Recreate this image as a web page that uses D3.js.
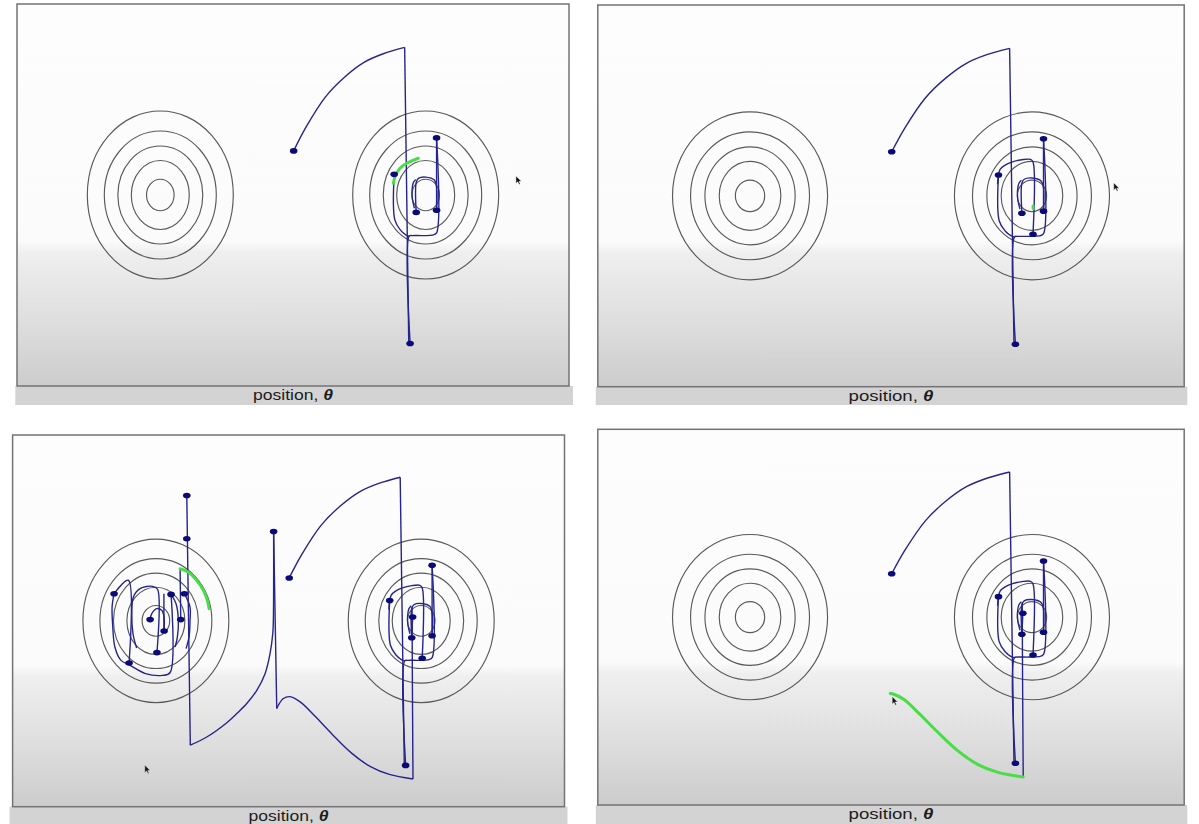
<!DOCTYPE html>
<html>
<head>
<meta charset="utf-8">
<script src="https://cdn.jsdelivr.net/npm/d3@7"></script>
<style>
  html, body { margin: 0; padding: 0; background: #ffffff; }
  svg { display: block; }
</style>
</head>
<body>
<svg id="chart" width="1199" height="824"></svg>
<script>
// Phase space of the sampler: position θ across, momentum p up
const thetaDomain = [-4.16, 4.16];
const momentumDomain = [-2.88, 2.88];

// Two modes of the target and the energy contours drawn round each (half-widths in θ and p)
const modeCenters = [-2, 2];
const contourRadiusTheta = [1.10, 0.844, 0.64, 0.437, 0.208];
const contourRadiusP = [1.267, 0.965, 0.739, 0.52, 0.238];

// Sampler path, leg by leg, as [θ, p] points
const legs = [
  [[0.01, 0.665], [0.2, 1.03], [0.49, 1.48], [0.78, 1.78], [1.07, 2.0], [1.36, 2.13], [1.683, 2.226]],
  [[1.683, 2.226], [1.745, -2.24]],
  [[1.765, -2.24], [1.752, -0.62], [1.80, -0.612], [1.95, -0.612], [2.10, -0.605], [2.164, -0.57], [2.164, 0.861]],
  [[2.164, 0.861], [2.164, -0.231]],
  [[2.164, -0.231], [2.164, 0.12], [2.13, 0.225], [2.0, 0.27], [1.89, 0.25], [1.857, 0.19], [1.857, -0.262]],
  [[1.83, -0.2], [1.80, -0.06], [1.795, 0.08], [1.815, 0.19], [1.85, 0.235]],
  [[1.525, 0.314], [1.535, -0.375], [1.62, -0.53], [1.70, -0.6], [1.752, -0.62]],
  [[1.512, 0.176], [1.525, 0.314], [1.548, 0.40], [1.613, 0.46], [1.714, 0.51], [1.857, 0.545], [1.98, 0.55], [2.015, 0.51], [2.015, -0.58]],
  [[1.871, 0.06], [1.857, -0.262]],
  [[1.862, 0.22], [1.866, -0.8], [1.876, -2.45]],
  [[1.876, -2.45], [1.518, -2.38], [1.235, -2.26], [0.95, -2.05], [0.66, -1.76], [0.40, -1.48], [0.18, -1.26], [0.02, -1.175], [-0.078, -1.204], [-0.154, -1.308], [-0.178, -1.359]],
  [[-0.178, -1.359], [-0.225, 1.385]],
  [[-0.225, 1.385], [-0.229, 0.008], [-0.238, -0.198], [-0.279, -0.508], [-0.354, -0.818], [-0.479, -1.076], [-0.63, -1.282], [-0.781, -1.437], [-0.945, -1.59], [-1.233, -1.8], [-1.481, -1.927]],
  [[-1.481, -1.927], [-1.534, 1.943]],
  [[-2.63, 0.421], [-2.416, 0.629], [-2.404, -0.653]],
  [[-2.63, 0.421], [-2.66, 0.216], [-2.65, -0.093], [-2.619, -0.402], [-2.53, -0.609], [-2.389, -0.689], [-2.157, -0.817], [-1.90, -0.845], [-1.785, -0.80], [-1.771, 0.41]],
  [[-2.29, -0.42], [-2.345, -0.2], [-2.363, 0.11], [-2.339, 0.369], [-2.239, 0.499], [-2.05, 0.535], [-1.975, 0.49], [-1.984, -0.492]],
  [[-2.087, 0.019], [-2.062, 0.111], [-1.987, 0.189], [-1.912, 0.163], [-1.877, 0.06], [-1.876, -0.158]],
  [[-1.879, 0.42], [-1.879, -0.158]],
  [[-1.57, 0.421], [-1.485, 0.214], [-1.485, 0.008], [-1.5, -0.251], [-1.545, -0.43]],
  [[-1.771, 0.41], [-1.696, 0.266], [-1.661, 0.008], [-1.676, -0.251], [-1.711, -0.406]],
  [[-1.625, 0.019], [-1.635, 0.808]]
];

// Kept samples: [θ, p, leg after which the sample is on screen]
const samples = [
  [0.01, 0.665, 0], [1.765, -2.24, 1], [2.164, 0.861, 2], [2.164, -0.231, 3],
  [1.857, -0.262, 4], [1.525, 0.314, 6], [2.015, -0.58, 7], [1.871, 0.06, 8],
  [-0.225, 1.385, 11], [-1.534, 1.943, 13], [-1.534, 1.272, 13],
  [-2.63, 0.421, 14], [-2.404, -0.653, 14], [-1.771, 0.41, 15], [-1.984, -0.492, 16],
  [-2.087, 0.019, 17], [-1.876, -0.158, 17], [-1.57, 0.421, 19], [-1.625, 0.019, 21]
];

// Four snapshots of the run: legs already drawn, and the leg being integrated now
const snapshotLegCount = [7, 8, 22, 10];
const currentLegs = [
  [[1.512, 0.176], [1.548, 0.302], [1.613, 0.403], [1.714, 0.478], [1.798, 0.517], [1.888, 0.554]],
  [[2.016, -0.19], [2.015, -0.155]],
  [[-1.635, 0.808], [-1.51, 0.755], [-1.384, 0.627], [-1.284, 0.472], [-1.224, 0.317], [-1.198, 0.189]],
  [[1.876, -2.45], [1.518, -2.38], [1.235, -2.26], [0.95, -2.05], [0.66, -1.76], [0.40, -1.48], [0.18, -1.26], [0.02, -1.175], [-0.01, -1.17]]
];
const pointerAt = [[3.36, 0.287], [3.16, 0.198], [-2.168, -2.235], [0.017, -1.218]];

const axisLabel = "position, ";
const axisSymbol = "θ";

// Layout of the four snapshot frames on the page
const panels = [
  { x0: 17,    x1: 569,    y0: 4,     y1: 386,   bandX0: 15.3,  bandX1: 573,    bandY1: 405 },
  { x0: 597.8, x1: 1184.2, y0: 5,     y1: 386.7, bandX0: 595.8, bandX1: 1187.3, bandY1: 405 },
  { x0: 12.6,  x1: 564.5,  y0: 435,   y1: 806.7, bandX0: 9.6,   bandX1: 567.5,  bandY1: 824 },
  { x0: 597.8, x1: 1184.2, y0: 429.3, y1: 805,   bandX0: 595.8, bandX1: 1187.3, bandY1: 824 }
];

const svg = d3.select("#chart");
const defs = svg.append("defs");

const grad = defs.append("linearGradient")
  .attr("id", "frameFill").attr("x1", 0).attr("y1", 0).attr("x2", 0).attr("y2", 1);
[[0, "#fdfdfd"], [0.62, "#fbfbfb"], [0.65, "#efefef"], [0.8, "#e1e1e1"], [1, "#cccccc"]]
  .forEach(([o, c]) => grad.append("stop").attr("offset", o).attr("stop-color", c));

const pathColor = "#25258c";
const dotColor = "#0b0b78";
const currentColor = "#47de47";
const contourColor = "#5a5a5a";

panels.forEach((pn, i) => {
  const x = d3.scaleLinear().domain(thetaDomain).range([pn.x0, pn.x1]);
  const y = d3.scaleLinear().domain(momentumDomain).range([pn.y1, pn.y0]);
  const g = svg.append("g").attr("class", "snapshot");

  defs.append("clipPath").attr("id", "clip" + i)
    .append("rect").attr("x", pn.x0).attr("y", pn.y0)
    .attr("width", pn.x1 - pn.x0).attr("height", pn.y1 - pn.y0);

  // caption strip under the frame
  g.append("rect")
    .attr("x", pn.bandX0).attr("y", pn.y1)
    .attr("width", pn.bandX1 - pn.bandX0).attr("height", pn.bandY1 - pn.y1)
    .attr("fill", "#d3d3d3");

  g.append("rect")
    .attr("x", pn.x0).attr("y", pn.y0)
    .attr("width", pn.x1 - pn.x0).attr("height", pn.y1 - pn.y0)
    .attr("fill", "url(#frameFill)");

  const plot = g.append("g").attr("clip-path", `url(#clip${i})`);

  // energy contours round both modes
  modeCenters.forEach(m => {
    contourRadiusTheta.forEach((r, k) => {
      plot.append("ellipse")
        .attr("cx", x(m)).attr("cy", y(0))
        .attr("rx", x(m + r) - x(m)).attr("ry", y(0) - y(contourRadiusP[k]))
        .attr("fill", "none").attr("stroke", contourColor).attr("stroke-width", 1.15);
    });
  });

  const line = d3.line()
    .x(d => x(d[0])).y(d => y(d[1]))
    .curve(d3.curveCatmullRom.alpha(0.5));

  plot.selectAll("path.leg")
    .data(legs.slice(0, snapshotLegCount[i]))
    .join("path").attr("class", "leg")
    .attr("d", line)
    .attr("fill", "none").attr("stroke", pathColor)
    .attr("stroke-width", 1.4).attr("stroke-linejoin", "round");

  plot.append("path")
    .attr("d", line(currentLegs[i]))
    .attr("fill", "none").attr("stroke", currentColor)
    .attr("stroke-width", 3).attr("stroke-linecap", "round");

  plot.selectAll("ellipse.sample")
    .data(samples.filter(s => s[2] < snapshotLegCount[i]))
    .join("ellipse").attr("class", "sample")
    .attr("cx", d => x(d[0])).attr("cy", d => y(d[1]))
    .attr("rx", 3.8).attr("ry", 2.8)
    .attr("fill", dotColor);

  // mouse pointer left on screen
  const pt = pointerAt[i];
  plot.append("path")
    .attr("transform", `translate(${x(pt[0])},${y(pt[1])}) scale(0.72)`)
    .attr("d", "M0,0 L0,10.5 L2.6,8.1 L4.4,12 L6,11.3 L4.3,7.5 L7.6,7.5 Z")
    .attr("fill", "#151515").attr("stroke", "#ffffff").attr("stroke-width", 0.6);

  g.append("rect")
    .attr("x", pn.x0).attr("y", pn.y0)
    .attr("width", pn.x1 - pn.x0).attr("height", pn.y1 - pn.y0)
    .attr("fill", "none").attr("stroke", "#737373").attr("stroke-width", 1.5);

  // axis caption
  const cap = g.append("g")
    .attr("transform", `translate(${(pn.x0 + pn.x1) / 2},${pn.y1 + 14})`);
  const t = cap.append("text")
    .attr("text-anchor", "middle")
    .attr("font-family", "'Liberation Sans', Arial, sans-serif")
    .attr("font-size", 14).attr("fill", "#1c1c1c");
  t.append("tspan").text(axisLabel);
  t.append("tspan").attr("font-style", "italic").attr("font-weight", "bold").text(axisSymbol);
  const natural = t.node().getComputedTextLength();
  const wanted = 0.145 * (pn.x1 - pn.x0);
  t.attr("transform", `scale(${wanted / natural},1)`);
});
</script>
</body>
</html>
